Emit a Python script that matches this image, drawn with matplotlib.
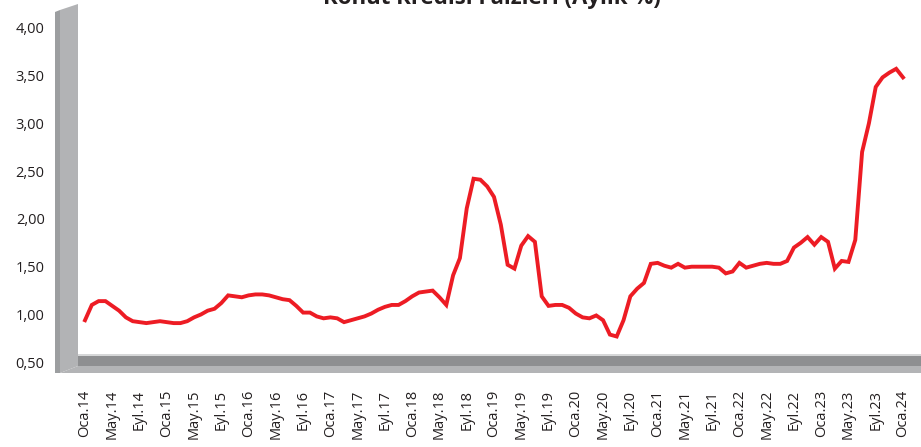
"""Konut kredisi faiz oranları (aylık %) - Ocak 2014 / Ocak 2024."""

import matplotlib
matplotlib.use("Agg")
import matplotlib.pyplot as plt
from matplotlib.patches import Polygon

plt.rcParams["font.family"] = ["Open Sans", "DejaVu Sans"]

# ---------------------------------------------------------------------------
# Data (monthly, Oca.14 .. Oca.24)
# ---------------------------------------------------------------------------

rates = [
    0.94, 1.10, 1.14, 1.14, 1.09, 1.04, 0.97, 0.93, 0.92, 0.91, 0.92, 0.93,  # 2014
    0.92, 0.91, 0.91, 0.93, 0.97, 1.00, 1.04, 1.06, 1.12, 1.20, 1.19, 1.18,  # 2015
    1.20, 1.21, 1.21, 1.20, 1.18, 1.16, 1.15, 1.09, 1.02, 1.02, 0.98, 0.96,  # 2016
    0.97, 0.96, 0.92, 0.94, 0.96, 0.98, 1.01, 1.05, 1.08, 1.10, 1.10, 1.14,  # 2017
    1.19, 1.23, 1.24, 1.25, 1.18, 1.10, 1.41, 1.59, 2.11, 2.42, 2.41, 2.34,  # 2018
    2.23, 1.94, 1.52, 1.48, 1.72, 1.82, 1.76, 1.19, 1.09, 1.10, 1.10, 1.07,  # 2019
    1.01, 0.97, 0.96, 0.99, 0.94, 0.79, 0.77, 0.94, 1.19, 1.27, 1.33, 1.53,  # 2020
    1.54, 1.51, 1.49, 1.53, 1.49, 1.50, 1.50, 1.50, 1.50, 1.49, 1.43, 1.45,  # 2021
    1.54, 1.49, 1.51, 1.53, 1.54, 1.53, 1.53, 1.56, 1.70, 1.75, 1.81, 1.73,  # 2022
    1.81, 1.76, 1.48, 1.56, 1.55, 1.78, 2.70, 3.00, 3.38, 3.48, 3.53, 3.57,  # 2023
    3.48,                                                                    # 2024
]

tick_labels = [
    "Oca.14", "May.14", "Eyl.14", "Oca.15", "May.15", "Eyl.15",
    "Oca.16", "May.16", "Eyl.16", "Oca.17", "May.17", "Eyl.17",
    "Oca.18", "May.18", "Eyl.18", "Oca.19", "May.19", "Eyl.19",
    "Oca.20", "May.20", "Eyl.20", "Oca.21", "May.21", "Eyl.21",
    "Oca.22", "May.22", "Eyl.22", "Oca.23", "May.23", "Eyl.23",
    "Oca.24",
]

y_ticks = [0.5, 1.0, 1.5, 2.0, 2.5, 3.0, 3.5, 4.0]

title = "Konut Kredisi Faizleri (Aylık %)"

# ---------------------------------------------------------------------------
# Figure
# ---------------------------------------------------------------------------

W, H = 921, 447
fig = plt.figure(figsize=(W / 100, H / 100), dpi=100)


def px(x, y):
    """Pixel (from top-left) -> figure fraction."""
    return (x / W, 1 - y / H)


def add_shape(points, color):
    poly = Polygon([px(x, y) for x, y in points], closed=True,
                   transform=fig.transFigure, facecolor=color,
                   edgecolor="none", zorder=-1)
    fig.add_artist(poly)


# 3D-style wall and floor
add_shape([(55, 12), (60, 10), (60, 373), (55, 373)], "#9c9ea0")
add_shape([(60, 10), (78, 4), (78, 366), (60, 373)], "#b2b3b5")
add_shape([(78, 354), (921, 354), (921, 356), (78, 356)], "#d6d7d8")
add_shape([(78, 356), (921, 356), (921, 366), (78, 366)], "#8e8f91")
add_shape([(60, 373), (78, 366), (921, 366), (921, 373)], "#b3b4b6")

# axes area: x 78..921 px, y 0..373 px
ax = fig.add_axes([78 / W, 1 - 373 / H, (921 - 78) / W, 373 / H])
ax.set_facecolor("none")

x = list(range(len(rates)))
ax.plot(x, rates, color="#ed1c24", linewidth=2.8, solid_joinstyle="miter")

# pixel mapping: i=0 -> 85 px, i=120 -> 903 px
step = (903 - 85) / 120
ax.set_xlim(-(85 - 78) / step, 120 + (921 - 903) / step)
# value 1.0 at 314.5 px, 95.6 px per unit
ax.set_ylim(1.0 + (314.5 - 373) / 95.6, 1.0 + 314.5 / 95.6)

ax.set_yticks(y_ticks)
ax.set_yticklabels([f"{v:.2f}".replace(".", ",") for v in y_ticks])
ax.set_xticks(range(0, len(rates), 4))
ax.set_xticklabels(tick_labels, rotation=90)

ax.tick_params(axis="y", length=0, pad=24, labelsize=10.5, labelcolor="#231f20")
ax.tick_params(axis="x", length=0, pad=12, labelsize=10.5, labelcolor="#231f20")
for s in ax.spines.values():
    s.set_visible(False)

# title sits partly above the top edge, as in the source image
fig.text(*px(492, 4), title, ha="center", va="baseline",
         fontsize=16, fontweight="bold", color="#231f20")

fig.savefig("out.png", dpi=100)
